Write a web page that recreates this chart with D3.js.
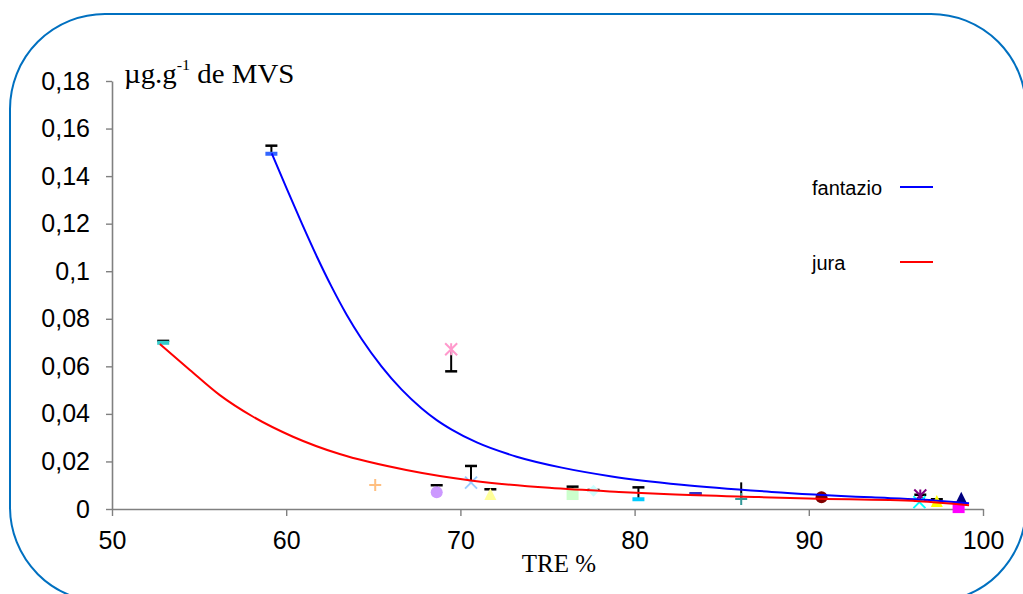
<!DOCTYPE html>
<html><head><meta charset="utf-8">
<script src="https://cdn.jsdelivr.net/npm/d3@7"></script>
<style>html,body{margin:0;padding:0;background:#fff;} svg{display:block;}</style>
</head><body>
<svg id="chart" width="1023" height="594"></svg>
<script>
// Samples: TRE (%) and concentration (µg.g-1 de MVS), with error bar extents
const tre     = [52.94, 59.15, 65.11, 68.64, 69.47, 70.61, 71.72, 76.44, 77.64, 80.22, 83.5, 86.12, 90.73, 96.4, 96.35, 97.35, 98.6, 98.75];
const conc    = [0.0699, 0.1494, 0.0101, 0.0070, 0.0672, 0.0111, 0.0063, 0.0063, 0.0077, 0.0041, 0.0063, 0.0042, 0.0049, 0.0057, 0.0029, 0.0034, 0.0008, 0.0047];
const errUp   = [0.0008, 0.0034, 0, 0.0030, 0, 0.0070, 0.0020, 0.0031, 0.0003, 0.0050, 0.0002, 0.0070, 0, 0.0003, 0, 0.0007, 0, 0];
const errDown = [0, 0, 0, 0, 0.0093, 0, 0, 0, 0, 0, 0, 0, 0, 0, 0, 0, 0, 0];

// Trend curves
const fantazioTre  = [59.17, 60.03, 60.89, 61.75, 62.61, 63.47, 64.33, 65.48, 66.63, 67.78, 68.64, 69.5, 70.94, 73.23, 75.82, 78.69, 82.7, 87.87, 93.61, 96.38, 99.2];
const fantazioConc = [0.1496, 0.1347, 0.1202, 0.1063, 0.0934, 0.0817, 0.0715, 0.0599, 0.0502, 0.0423, 0.0374, 0.0334, 0.0280, 0.0220, 0.0174, 0.0137, 0.0102, 0.0072, 0.0049, 0.0040, 0.0024];
const juraTre  = [52.75, 54.47, 56.19, 58.10, 60.39, 63.07, 66.89, 70.71, 75.1, 79.1, 82.0, 87.13, 90.0, 96.3, 99.2];
const juraConc = [0.0694, 0.0585, 0.0479, 0.0388, 0.0304, 0.0231, 0.0164, 0.0119, 0.0089, 0.0072, 0.0062, 0.0050, 0.0044, 0.0033, 0.0016];

const seriesNames = ["fantazio", "jura"];

// Axis ticks
const xTicks = [50, 60, 70, 80, 90, 100];
const yTicks = [0, 0.02, 0.04, 0.06, 0.08, 0.1, 0.12, 0.14, 0.16, 0.18];
const yTickLabels = ["0", "0,02", "0,04", "0,06", "0,08", "0,1", "0,12", "0,14", "0,16", "0,18"];

// Marker appearance per sample
const markerShape = ["dash", "dash", "plus", "circle", "asterisk", "cross", "triangle", "square", "diamond", "dash", "dash", "plus", "circle", "asterisk", "cross", "triangle", "square", "triangle"];
const markerColor = ["#33CCCC", "#3366FF", "#FFBF80", "#CC99FF", "#FF99CC", "#99CCFF", "#FFFF99", "#CCFFCC", "#CCFFFF", "#00CCFF", "#3333CC", "#339999", "#800000", "#800080", "#00FFFF", "#FFFF00", "#FF00FF", "#000080"];
const capped = [true, true, true, true, true, true, true, true, true, true, true, false, true, true, true, true, true, true];

const sans = "'Liberation Sans', Arial, sans-serif";
const serif = "'Liberation Serif', 'Times New Roman', serif";

const svg = d3.select("#chart");

// Rounded frame
svg.append("rect")
  .attr("x", 10).attr("y", 14).attr("width", 1016).attr("height", 588)
  .attr("rx", 95).attr("ry", 95)
  .attr("fill", "none").attr("stroke", "#0070C0").attr("stroke-width", 2);

const x = d3.scaleLinear().domain([50, 100]).range([112, 983]);
const y = d3.scaleLinear().domain([0, 0.18]).range([509, 81]);

// Axes
const yAxis = svg.append("g").attr("transform", "translate(112,0)")
  .call(d3.axisLeft(y).tickValues(yTicks).tickFormat((d, i) => yTickLabels[i]).tickSize(6).tickSizeOuter(0).tickPadding(16));
const xAxis = svg.append("g").attr("transform", "translate(0,509)")
  .call(d3.axisBottom(x).tickValues(xTicks).tickFormat(d3.format("d")).tickSize(7).tickSizeOuter(0).tickPadding(15));
[yAxis, xAxis].forEach(ax => {
  ax.select(".domain").attr("stroke", "#808080").attr("stroke-width", 1.6);
  ax.selectAll(".tick line").attr("stroke", "#808080").attr("stroke-width", 1.4);
  ax.selectAll(".tick text").attr("fill", "#000").style("font-family", sans).style("font-size", "25px");
});

// Axis titles
const yTitle = svg.append("g").attr("transform", "translate(124,83) scale(1.07,1)")
  .append("text").attr("x", 0).attr("y", 0)
  .style("font-family", serif).style("font-size", "27px").attr("fill", "#000");
yTitle.append("tspan").text("µg.g");
yTitle.append("tspan").attr("dy", -13).style("font-size", "15px").text("-1");
yTitle.append("tspan").attr("dy", 13).text(" de MVS");

svg.append("text").attr("x", 559).attr("y", 572).attr("text-anchor", "middle")
  .style("font-family", serif).style("font-size", "25px").attr("fill", "#000").text("TRE %");

// Error bars
const eb = svg.append("g").attr("stroke", "#000");
tre.forEach((t, i) => {
  if (!errUp[i] && !errDown[i]) return;
  const cx = x(t);
  const top = y(conc[i] + errUp[i]);
  const bot = y(conc[i] - errDown[i]);
  eb.append("line").attr("x1", cx).attr("x2", cx).attr("y1", top).attr("y2", bot).attr("stroke-width", 2);
  if (capped[i]) {
    const capY = errUp[i] ? top : bot;
    eb.append("line").attr("x1", cx - 6).attr("x2", cx + 6).attr("y1", capY).attr("y2", capY).attr("stroke-width", 2.5);
  }
});

// Markers
const mk = svg.append("g");
function marker(shape, color, cx, cy) {
  const s = 6;
  const g = mk.append("g").attr("transform", `translate(${cx},${cy})`);
  if (shape === "dash") {
    g.append("rect").attr("x", -6).attr("y", -2).attr("width", 12).attr("height", 4).attr("fill", color);
  } else if (shape === "square") {
    g.append("rect").attr("x", -s).attr("y", -s).attr("width", 2 * s).attr("height", 2 * s).attr("fill", color);
  } else if (shape === "circle") {
    g.append("circle").attr("r", s).attr("fill", color);
  } else if (shape === "triangle") {
    g.append("path").attr("d", `M0,${-s}L${s},${s}L${-s},${s}Z`).attr("fill", color);
  } else if (shape === "diamond") {
    g.append("path").attr("d", `M0,${-s}L${s},0L0,${s}L${-s},0Z`).attr("fill", color);
  } else if (shape === "plus") {
    g.append("path").attr("d", `M${-s},0H${s}M0,${-s}V${s}`).attr("stroke", color).attr("stroke-width", 2);
  } else if (shape === "cross") {
    g.append("path").attr("d", `M${-s},${-s}L${s},${s}M${-s},${s}L${s},${-s}`).attr("stroke", color).attr("stroke-width", 2);
  } else if (shape === "asterisk") {
    g.append("path").attr("d", `M${-s},${-s}L${s},${s}M${-s},${s}L${s},${-s}M0,${-s}V${s}`).attr("stroke", color).attr("stroke-width", 2);
  }
}
tre.forEach((t, i) => marker(markerShape[i], markerColor[i], x(t), y(conc[i])));

// Trend curves
const line = d3.line().x(d => x(d[0])).y(d => y(d[1])).curve(d3.curveMonotoneX);
svg.append("path").datum(d3.zip(fantazioTre, fantazioConc)).attr("d", line)
  .attr("fill", "none").attr("stroke", "#0000FF").attr("stroke-width", 2);
svg.append("path").datum(d3.zip(juraTre, juraConc)).attr("d", line)
  .attr("fill", "none").attr("stroke", "#FF0000").attr("stroke-width", 2);

// Legend
const legendColors = ["#0000FF", "#FF0000"];
const legendY = [187, 262];
seriesNames.forEach((name, i) => {
  svg.append("text").attr("x", 812).attr("y", legendY[i] + 8)
    .style("font-family", sans).style("font-size", "20px").attr("fill", "#000").text(name);
  svg.append("line").attr("x1", 900).attr("x2", 933).attr("y1", legendY[i]).attr("y2", legendY[i])
    .attr("stroke", legendColors[i]).attr("stroke-width", 2);
});
</script>
</body></html>
